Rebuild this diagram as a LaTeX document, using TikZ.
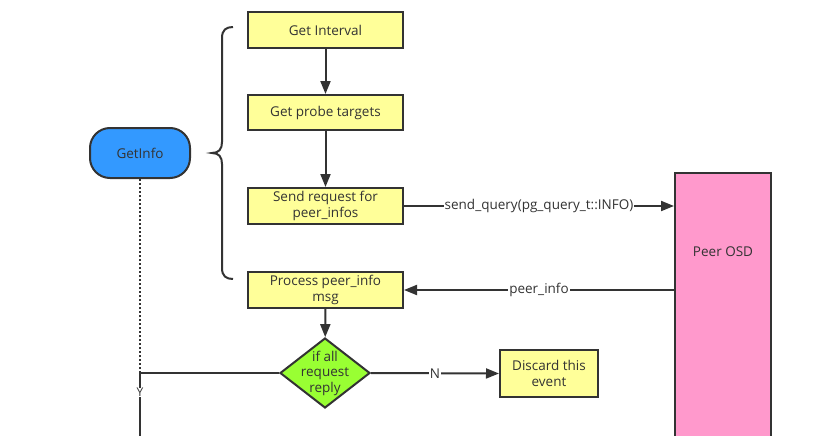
\documentclass[tikz,border=0pt]{standalone}
\usepackage{fontspec}
\setmainfont{Open Sans}
\usetikzlibrary{arrows.meta,shapes.geometric}
\definecolor{ink}{HTML}{333333}
\definecolor{boxy}{HTML}{FFFF99}
\definecolor{bluegi}{HTML}{3399FF}
\definecolor{greend}{HTML}{99FF33}
\definecolor{pinko}{HTML}{FF99CC}
\tikzset{
  base/.style={draw=ink, line width=2pt, text=ink, font=\fontsize{13.5}{16}\selectfont, align=center, inner sep=2pt},
  stepbox/.style={base, rectangle, fill=boxy, minimum width=155pt, minimum height=36pt},
  arr/.style={draw=ink, line width=2pt, -{Triangle[length=13pt,width=10pt]}},
  lbl/.style={fill=white, text=ink, font=\fontsize{13.5}{16}\selectfont, inner sep=1pt},
  plaintext/.style={text=ink, font=\fontsize{13.5}{16}\selectfont, align=center, inner sep=0pt}
}
\begin{document}
\begin{tikzpicture}[x=1pt,y=-1pt]
\useasboundingbox (0,0) rectangle (840,436);
\clip (0,0) rectangle (840,436);
\node[stepbox] (gint) at (325.5,30) {Get Interval};
\node[stepbox, minimum height=35pt] (gpt) at (325.5,112.5) {Get probe targets};
\node[stepbox] (send) at (325.5,206) {Send request for\\peer\_infos};
\node[stepbox] (proc) at (325.5,290) {Process peer\_info\\msg};
\node[base, diamond, fill=greend, minimum width=90pt, minimum height=70pt, inner sep=0pt] (dia) at (325,373) {};
\node[plaintext, font=\fontsize{13.5}{15.5}\selectfont] (diat) at (dia.center) {if all\\request\\reply};
\node[base, rectangle, fill=boxy, minimum width=98pt, minimum height=47pt] (disc) at (549,373.5) {Discard this\\event};
\node[base, rectangle, fill=bluegi, minimum width=100pt, minimum height=50pt, rounded corners=20pt] (gi) at (140,153) {GetInfo};
\node[base, rectangle, fill=pinko, minimum width=96pt, minimum height=300pt] (osd) at (723,323) {};
\node[plaintext] (osdt) at (723,252) {Peer OSD};
% brace
\draw[draw=ink, line width=2pt] (233,27) .. controls (226,27) and (222,30) .. (222,38) -- (222,142) .. controls (222,149) and (219,153) .. (212,153) .. controls (219,153) and (222,157) .. (222,164) -- (222,268) .. controls (222,276) and (226,279) .. (233,279);
% arrows
\draw[arr] (gint) -- (gpt);
\draw[arr] (gpt) -- (send);
\draw[arr] (proc) -- (dia);
\draw[arr] (send.east) -- node[lbl, pos=0.5] {send\_query(pg\_query\_t::INFO)} (send.east -| osd.west);
\draw[arr] (proc.east -| osd.west) -- node[lbl, pos=0.5] {peer\_info} (proc.east);
\draw[arr] (dia.east) -- node[lbl, pos=0.5] {N} (disc.west);
\coordinate (yc) at (140,373);
\coordinate (bot) at (140,445);
\draw[draw=ink, line width=2.2pt, dash pattern=on 2pt off 2pt] (gi.south) -- (yc);
\draw[draw=ink, line width=2pt] (dia.west) -- (yc) -- node[lbl, pos=0.27, inner sep=0.5pt, font=\fontsize{12}{13}\selectfont] {Y} (bot);
\end{tikzpicture}
\end{document}
